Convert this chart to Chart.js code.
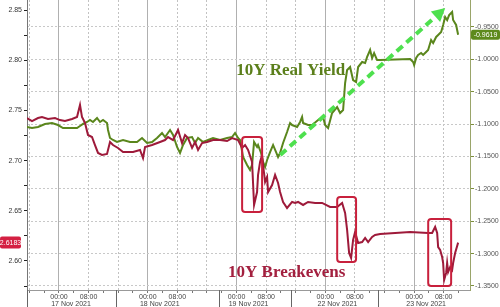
<!DOCTYPE html>
<html>
<head>
<meta charset="utf-8">
<title>10Y Real Yield vs 10Y Breakevens</title>
<script src="https://cdn.jsdelivr.net/npm/chart.js@4.4.1/dist/chart.umd.min.js"></script>
<style>
    html, body { margin: 0; padding: 0; background: #fff; }
    #grafico { position: relative; width: 500px; height: 307px; }
</style>
</head>
<body>
<div id="grafico"><canvas id="myChart"></canvas></div>
<script>
// hours counted from 17 Nov 2021 00:00, weekend (20-21 Nov) left out
var beHours = [-8.65, -7.3, -5.68, -4.6, -2.97, -1.08, 0.27, 1.62, 3.52, 4.87,
    5.68, 6.22, 7.03, 7.84, 8.92, 9.73, 10.55, 11.63, 12.98, 13.79,
    14.6, 15.95, 17.31, 20.01, 21.9, 22.71, 23.26, 25.15, 27.31, 28.66,
    29.48, 30.83, 32.18, 33.26, 34.07, 34.88, 35.97, 36.78, 37.59, 38.67,
    40.02, 41.64, 43.54, 45.43, 46.78, 48.4, 49.49, 50.3, 51.11, 52.19,
    52.73, 53.54, 53.81, 54.35, 54.89, 55.16, 55.71, 56.25, 56.52, 57.6,
    58.41, 59.22, 59.76, 60.57, 61.65, 63.01, 63.82, 64.63, 65.98, 67.33,
    69.23, 71.12, 73.28, 75.18, 76.53, 77.34, 77.88, 78.42, 78.96, 79.5,
    80.04, 80.86, 81.94, 82.75, 83.56, 84.64, 85.45, 86.8, 94.92, 99.78,
    100.86, 101.68, 102.22, 102.49, 103.03, 103.57, 103.84, 104.11, 104.65, 104.92,
    105.19, 105.73, 106.27, 106.54, 107.08, 107.89];
// 10Y breakevens (left axis)
var beValues = [2.7424, 2.7394, 2.7424, 2.7434, 2.7414, 2.7424, 2.7404, 2.7394, 2.7414, 2.7434,
    2.7554, 2.7434, 2.7375, 2.7255, 2.7235, 2.7155, 2.7076, 2.7056, 2.7066, 2.7185,
    2.7155, 2.7126, 2.7086, 2.7086, 2.7106, 2.7026, 2.7136, 2.7155, 2.7185, 2.7205,
    2.7235, 2.7205, 2.7305, 2.7175, 2.7255, 2.7225, 2.7126, 2.7185, 2.7106, 2.7175,
    2.7185, 2.7205, 2.7205, 2.7195, 2.7225, 2.7205, 2.7126, 2.7155, 2.7106, 2.6986,
    2.6558, 2.6687, 2.6857, 2.6986, 2.7056, 2.6956, 2.6787, 2.6837, 2.6687, 2.6757,
    2.6857, 2.6777, 2.6687, 2.6588, 2.6528, 2.6588, 2.6578, 2.6588, 2.6558, 2.6588,
    2.6578, 2.6578, 2.6538, 2.6538, 2.6578, 2.6478, 2.6309, 2.6080, 2.6030, 2.6209,
    2.6289, 2.6179, 2.6189, 2.6229, 2.6189, 2.6239, 2.6259, 2.6269, 2.6289, 2.6279,
    2.6279, 2.6339, 2.6279, 2.6139, 2.6110, 2.6040, 2.5980, 2.5811, 2.5881, 2.5980,
    2.5891, 2.5940, 2.5910, 2.5980, 2.6080, 2.6183];

var ryHours = [-8.65, -7.3, -5.68, -3.79, -1.89, -0.27, 1.08, 2.16, 3.52, 4.87,
    5.68, 6.49, 7.57, 8.38, 9.19, 10.28, 11.09, 11.9, 12.98, 13.25,
    13.79, 14.6, 15.68, 17.31, 19.2, 21.09, 22.44, 23.8, 25.15, 26.5,
    27.85, 28.66, 30.02, 30.83, 31.91, 32.72, 33.53, 34.61, 35.97, 36.78,
    37.59, 38.94, 40.29, 41.64, 43.54, 45.43, 46.78, 47.59, 48.4, 48.94,
    49.76, 50.84, 51.65, 52.19, 52.73, 53.54, 53.81, 54.62, 55.16, 55.71,
    56.25, 57.06, 57.87, 58.68, 59.22, 59.76, 60.57, 61.65, 62.47, 63.01,
    64.36, 65.17, 65.71, 65.98, 67.33, 68.42, 70.04, 71.39, 71.93, 72.74,
    73.82, 75.18, 75.99, 76.8, 77.34, 77.88, 78.69, 79.5, 80.31, 80.86,
    81.94, 82.75, 83.29, 84.1, 84.64, 85.18, 85.99, 86.8, 94.92, 95.73,
    96.0, 96.54, 97.08, 97.89, 98.43, 99.24, 99.78, 100.59, 101.14, 101.95,
    102.49, 103.3, 103.84, 104.38, 104.92, 105.46, 106.27, 106.54, 107.35, 107.89];
// 10Y real yield (right axis)
var ryValues = [-1.1044, -1.1060, -1.1044, -1.0998, -1.0983, -1.1014, -1.1060, -1.1060, -1.1060, -1.1060,
    -1.1029, -1.0998, -1.0967, -1.0936, -1.0967, -1.0905, -1.0967, -1.0936, -1.0983, -1.1091,
    -1.1214, -1.1245, -1.1276, -1.1245, -1.1276, -1.1276, -1.1214, -1.1292, -1.1276, -1.1214,
    -1.1137, -1.1199, -1.1091, -1.1168, -1.1353, -1.1446, -1.1322, -1.1214, -1.1199, -1.1292,
    -1.1214, -1.1276, -1.1245, -1.1214, -1.1245, -1.1214, -1.1199, -1.1137, -1.1214, -1.1245,
    -1.1508, -1.1631, -1.1708, -1.1631, -1.1276, -1.1353, -1.1322, -1.1446, -1.1585, -1.1662,
    -1.1554, -1.1431, -1.1322, -1.1431, -1.1508, -1.1446, -1.1292, -1.1122, -1.0983, -1.1014,
    -1.1044, -1.0967, -1.0890, -1.0983, -1.1014, -1.1014, -1.0936, -1.0890, -1.1014, -1.1060,
    -1.0828, -1.0736, -1.0828, -1.0782, -1.0365, -1.0164, -1.0118, -1.0319, -1.0349, -1.0118,
    -1.0041, -1.0056, -0.9963, -0.9855, -0.9979, -0.9902, -1.0010, -1.0010, -0.9994, -1.0041,
    -1.0087, -0.9979, -0.9932, -0.9902, -0.9932, -0.9886, -0.9855, -0.9701, -0.9747, -0.9654,
    -0.9624, -0.9577, -0.9469, -0.9346, -0.9392, -0.9315, -0.9268, -0.9392, -0.9469, -0.9619];

var hourTicks = [-8, -4, 0, 4, 8, 12, 16, 20, 24, 28, 32, 36, 40, 44, 48, 52, 56, 60, 64, 68,
    72, 76, 80, 84, 88, 92, 96, 100, 104, 108];
var dayStarts = [0, 24, 48, 72, 96];
var dayLabels = ['17 Nov 2021', '18 Nov 2021', '19 Nov 2021', '22 Nov 2021', '23 Nov 2021'];
var daySplits = [-8.6, 15.4, 43.3, 62.7, 86.3];
var leftTicks = [2.575, 2.6, 2.625, 2.65, 2.675, 2.7, 2.725, 2.75, 2.775, 2.8, 2.825, 2.85];
var rightTicks = [-1.35, -1.3, -1.25, -1.2, -1.15, -1.1, -1.05, -1.0, -0.95];

// annotations: [hourFrom, hourTo, low, high] on the left axis
var boxes = [[49.5, 54.9, 2.6488, 2.7235], [75.2, 80.3, 2.599, 2.6638], [99.8, 106.0, 2.5751, 2.6418]];
var arrowFrom = [59.8, -1.1477];
var arrowTo = [104.4, -0.9207];
var realLabelAt = [47.9, -1.024];
var beLabelAt = [45.7, 2.584];

var xMin = -8.65, xMax = 111.1;

function toPoints(hours, values) {
    var pts = [];
    for (var i = 0; i < hours.length; i++) {
        pts.push({x: hours[i], y: values[i]});
    }
    return pts;
}

function hourOfDay(v) {
    return ((Math.round(v) % 24) + 24) % 24;
}

function tickList(list) {
    return function (scale) {
        scale.ticks = list.map(function (v) { return {value: v}; });
    };
}

function fixSize(prop, size) {
    return function (scale) {
        scale[prop] = size;
        scale.paddingTop = 0;
        scale.paddingBottom = 0;
        scale.paddingLeft = 0;
        scale.paddingRight = 0;
    };
}

function roundBox(ctx, x, y, w, h, r) {
    ctx.beginPath();
    ctx.moveTo(x + r, y);
    ctx.lineTo(x + w - r, y);
    ctx.quadraticCurveTo(x + w, y, x + w, y + r);
    ctx.lineTo(x + w, y + h - r);
    ctx.quadraticCurveTo(x + w, y + h, x + w - r, y + h);
    ctx.lineTo(x + r, y + h);
    ctx.quadraticCurveTo(x, y + h, x, y + h - r);
    ctx.lineTo(x, y + r);
    ctx.quadraticCurveTo(x, y, x + r, y);
    ctx.closePath();
}

function badge(ctx, text, x, y, w, h, color) {
    ctx.fillStyle = color;
    roundBox(ctx, x, y - h / 2, w, h, 2);
    ctx.fill();
    ctx.fillStyle = '#fff';
    ctx.font = '7px "Liberation Sans", Arial, sans-serif';
    ctx.textAlign = 'center';
    ctx.textBaseline = 'middle';
    ctx.fillText(text, x + w / 2, y + 0.5);
}

var extras = {
    id: 'extras',
    afterDatasetsDraw: function (chart) {
        var ctx = chart.ctx;
        var xs = chart.scales.x, yl = chart.scales.y, yr = chart.scales.y2;
        ctx.save();

        // red boxes round the drops
        ctx.strokeStyle = '#c8203c';
        ctx.lineWidth = 2;
        boxes.forEach(function (b) {
            var x1 = xs.getPixelForValue(b[0]), x2 = xs.getPixelForValue(b[1]);
            var y1 = yl.getPixelForValue(b[3]), y2 = yl.getPixelForValue(b[2]);
            roundBox(ctx, x1, y1, x2 - x1, y2 - y1, 3);
            ctx.stroke();
        });

        // dashed green arrow
        var p0x = xs.getPixelForValue(arrowFrom[0]), p0y = yr.getPixelForValue(arrowFrom[1]);
        var p1x = xs.getPixelForValue(arrowTo[0]), p1y = yr.getPixelForValue(arrowTo[1]);
        var ang = Math.atan2(p1y - p0y, p1x - p0x);
        var head = 13, half = 7;
        var bx = p1x - head * Math.cos(ang), by = p1y - head * Math.sin(ang);
        ctx.strokeStyle = '#4ee04e';
        ctx.fillStyle = '#4ee04e';
        ctx.lineWidth = 4;
        ctx.setLineDash([8, 5]);
        ctx.beginPath();
        ctx.moveTo(p0x, p0y);
        ctx.lineTo(bx, by);
        ctx.stroke();
        ctx.setLineDash([]);
        ctx.beginPath();
        ctx.moveTo(p1x, p1y);
        ctx.lineTo(bx + half * Math.sin(ang), by - half * Math.cos(ang));
        ctx.lineTo(bx - half * Math.sin(ang), by + half * Math.cos(ang));
        ctx.closePath();
        ctx.fill();

        // series names
        ctx.font = 'bold 17px "Liberation Serif", "Times New Roman", serif';
        ctx.textAlign = 'left';
        ctx.textBaseline = 'alphabetic';
        ctx.fillStyle = '#5b7f1b';
        ctx.fillText('10Y Real Yield', xs.getPixelForValue(realLabelAt[0]), yr.getPixelForValue(realLabelAt[1]));
        ctx.fillStyle = '#a3203f';
        ctx.fillText('10Y Breakevens', xs.getPixelForValue(beLabelAt[0]), yl.getPixelForValue(beLabelAt[1]));
        ctx.restore();
    },
    afterDraw: function (chart) {
        var ctx = chart.ctx;
        var xs = chart.scales.x, yl = chart.scales.y, yr = chart.scales.y2;
        ctx.save();
        // day separators under the axis
        ctx.strokeStyle = '#666';
        ctx.lineWidth = 1;
        daySplits.forEach(function (h) {
            var px = Math.round(xs.getPixelForValue(h)) + 0.5;
            ctx.beginPath();
            ctx.moveTo(px, xs.top);
            ctx.lineTo(px, chart.height);
            ctx.stroke();
        });
        // last value tags
        var lastBe = beValues[beValues.length - 1];
        var lastRy = ryValues[ryValues.length - 1];
        badge(ctx, lastBe.toFixed(4), 0, yl.getPixelForValue(lastBe), 21, 12, '#d42042');
        badge(ctx, lastRy.toFixed(4), yr.left + 1, yr.getPixelForValue(lastRy), 29, 10, '#5e8a1d');
        ctx.restore();
    }
};

Chart.defaults.font.family = '"Liberation Sans", Arial, sans-serif';
Chart.defaults.font.size = 7;
Chart.defaults.color = '#444';

var ctx = document.getElementById('myChart').getContext('2d');
var myChart = new Chart(ctx, {
    type: 'line',
    data: {
        datasets: [{
            label: '10Y Breakevens',
            data: toPoints(beHours, beValues),
            yAxisID: 'y',
            borderColor: '#9e1a3a',
            borderWidth: 2,
            pointRadius: 0,
            tension: 0
        }, {
            label: '10Y Real Yield',
            data: toPoints(ryHours, ryValues),
            yAxisID: 'y2',
            borderColor: '#5a861c',
            borderWidth: 2,
            pointRadius: 0,
            tension: 0
        }]
    },
    options: {
        responsive: true,
        maintainAspectRatio: false,
        animation: false,
        layout: { padding: 0 },
        plugins: {
            legend: { display: false },
            tooltip: { enabled: false }
        },
        scales: {
            x: {
                type: 'linear',
                position: 'bottom',
                weight: 0,
                min: xMin,
                max: xMax,
                afterBuildTicks: tickList(hourTicks),
                afterFit: fixSize('height', 10),
                ticks: {
                    autoSkip: false,
                    maxRotation: 0,
                    minRotation: 0,
                    padding: 0,
                    callback: function (v) {
                        var h = hourOfDay(v);
                        return h === 0 ? '00:00' : (h === 8 ? '08:00' : '');
                    }
                },
                grid: {
                    color: function (c) {
                        if (!c.tick) return 'rgba(0,0,0,0)';
                        var h = hourOfDay(c.tick.value);
                        return (h === 8 || h === 16) ? '#c2c2c2' : 'rgba(0,0,0,0)';
                    },
                    tickColor: '#777',
                    tickLength: 3
                },
                border: { color: '#999', dash: [2, 2] }
            },
            xd: {
                type: 'linear',
                position: 'bottom',
                weight: 1,
                min: xMin,
                max: xMax,
                afterBuildTicks: tickList(dayStarts),
                afterFit: fixSize('height', 7),
                ticks: {
                    autoSkip: false,
                    maxRotation: 0,
                    minRotation: 0,
                    padding: 0,
                    labelOffset: 12,
                    callback: function (v, i) { return dayLabels[i]; }
                },
                grid: { color: '#b0b0b0', drawTicks: false },
                border: { display: false }
            },
            y: {
                position: 'left',
                min: 2.5711,
                max: 2.86,
                afterBuildTicks: tickList(leftTicks),
                afterFit: fixSize('width', 27),
                ticks: {
                    autoSkip: false,
                    padding: 2,
                    color: '#333',
                    callback: function (v) {
                        return Math.abs(v * 20 - Math.round(v * 20)) < 1e-6 ? v.toFixed(2) : '';
                    }
                },
                grid: { drawOnChartArea: false, tickColor: '#222', tickLength: 3 },
                border: { color: '#777' }
            },
            y2: {
                position: 'right',
                min: -1.3562,
                max: -0.9083,
                afterBuildTicks: tickList(rightTicks),
                afterFit: fixSize('width', 30),
                ticks: {
                    autoSkip: false,
                    padding: 1,
                    color: '#555',
                    callback: function (v) { return v.toFixed(4); }
                },
                grid: { color: '#c8c8c8', tickColor: '#7d8f3c', tickLength: 4 },
                border: { color: '#9aa56a', dash: [2, 2] }
            }
        }
    },
    plugins: [extras]
});
</script>
</body>
</html>
